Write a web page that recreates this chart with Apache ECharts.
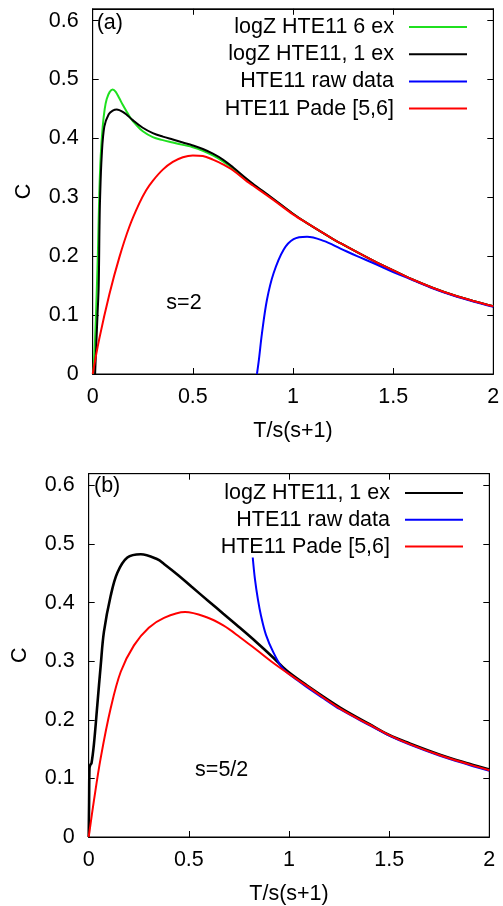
<!DOCTYPE html>
<html><head><meta charset="utf-8">
<script src="https://cdn.jsdelivr.net/npm/echarts@6/dist/echarts.min.js"></script>
<style>html,body{margin:0;padding:0;background:#fff}#c{width:503px;height:906px}</style>
</head><body><div id="c"></div>
<script>
// ---- tick labels ----
const xTickLabels = ['0', '0.5', '1', '1.5', '2'];
const yTickLabels = ['0', '0.1', '0.2', '0.3', '0.4', '0.5', '0.6'];

// ---- series names ----
const namesA = ['logZ HTE11 6 ex', 'logZ HTE11, 1 ex', 'HTE11 raw data', 'HTE11 Pade [5,6]'];
const namesB = ['logZ HTE11, 1 ex', 'HTE11 raw data', 'HTE11 Pade [5,6]'];
const panelTags = ['(a)', '(b)'];
const spinLabels = ['s=2', 's=5/2'];

// ---- panel (a), s=2 : [T/s(s+1), C] ----
const aGreen = [[0.003,0],[0.012,0.06],[0.02,0.137],[0.027,0.22],[0.033,0.307],[0.04,0.37],[0.05,0.42],[0.06,0.45],[0.07,0.467],[0.085,0.479],[0.1,0.483],[0.115,0.479],[0.133,0.468],[0.15,0.457],[0.167,0.447],[0.19,0.434],[0.217,0.423],[0.25,0.412],[0.3,0.402],[0.35,0.397],[0.4,0.393],[0.45,0.389],[0.5,0.385],[0.55,0.379],[0.6,0.371],[0.65,0.361],[0.7,0.349],[0.77,0.330],[0.8,0.322],[0.9,0.297],[1.0,0.272],[1.07,0.256],[1.2,0.229],[1.237,0.222],[1.403,0.192],[1.537,0.170],[1.6,0.160],[1.7,0.146],[1.8,0.134],[1.9,0.124],[2.0,0.115]];
const aBlack = [[0.012,0],[0.018,0.05],[0.024,0.1],[0.03,0.15],[0.034,0.25],[0.037,0.3],[0.045,0.37],[0.058,0.42],[0.08,0.441],[0.1,0.447],[0.12,0.449],[0.133,0.448],[0.15,0.445],[0.167,0.441],[0.2,0.431],[0.25,0.418],[0.3,0.409],[0.35,0.403],[0.4,0.398],[0.45,0.393],[0.5,0.388],[0.55,0.382],[0.6,0.374],[0.65,0.364],[0.7,0.351],[0.77,0.331],[0.8,0.323],[0.9,0.298],[1.0,0.272],[1.07,0.256],[1.2,0.229],[1.237,0.222],[1.403,0.192],[1.537,0.170],[1.6,0.160],[1.7,0.146],[1.8,0.134],[1.9,0.124],[2.0,0.115]];
const aBlue = [[0.82,0],[0.83,0.025],[0.845,0.069],[0.87,0.126],[0.903,0.171],[0.953,0.211],[1.003,0.229],[1.07,0.233],[1.153,0.226],[1.237,0.213],[1.32,0.200],[1.403,0.188],[1.5,0.173],[1.537,0.168],[1.6,0.159],[1.7,0.145],[1.8,0.133],[1.9,0.123],[2.0,0.114]];
const aRed = [[0,0],[0.033,0.06],[0.083,0.135],[0.133,0.198],[0.183,0.25],[0.233,0.29],[0.267,0.312],[0.3,0.328],[0.35,0.347],[0.4,0.360],[0.45,0.368],[0.5,0.371],[0.55,0.370],[0.6,0.364],[0.65,0.356],[0.7,0.346],[0.77,0.327],[0.8,0.320],[0.9,0.296],[1.0,0.271],[1.07,0.256],[1.2,0.229],[1.237,0.222],[1.403,0.192],[1.537,0.170],[1.6,0.160],[1.7,0.146],[1.8,0.134],[1.9,0.124],[2.0,0.115]];

// ---- panel (b), s=5/2 ----
const bBlack = [[0,0],[0.002,0.06],[0.004,0.118],[0.008,0.123],[0.014,0.126],[0.026,0.158],[0.043,0.225],[0.06,0.293],[0.076,0.35],[0.11,0.412],[0.143,0.451],[0.193,0.477],[0.26,0.4825],[0.343,0.474],[0.376,0.466],[0.45,0.446],[0.514,0.427],[0.6,0.402],[0.672,0.381],[0.755,0.357],[0.839,0.332],[0.922,0.306],[0.988,0.284],[1.088,0.259],[1.255,0.221],[1.4,0.193],[1.5,0.174],[1.6,0.160],[1.75,0.141],[1.9,0.125],[2.0,0.115]];
const bBlue = [[0.819,0.477],[0.83,0.44],[0.845,0.405],[0.86,0.378],[0.885,0.345],[0.922,0.315],[0.965,0.289],[1.0,0.278],[1.04,0.268],[1.1,0.253],[1.171,0.237],[1.255,0.218],[1.4,0.191],[1.5,0.173],[1.6,0.158],[1.75,0.139],[1.9,0.123],[2.0,0.113]];
const bRed = [[0,0],[0.026,0.062],[0.06,0.135],[0.11,0.22],[0.16,0.282],[0.226,0.327],[0.3,0.357],[0.376,0.374],[0.481,0.384],[0.589,0.375],[0.672,0.361],[0.755,0.341],[0.839,0.319],[0.922,0.297],[1.005,0.277],[1.088,0.258],[1.255,0.219],[1.4,0.192],[1.5,0.174],[1.6,0.159],[1.75,0.140],[1.9,0.124],[2.0,0.114]];

const FONT = '"Liberation Sans", Arial, sans-serif';
const FS = 21.5;
const colors = { green: '#1fe01f', black: '#000000', blue: '#0000ff', red: '#ff0000' };

function labelFrom(list, step) {
  return function (v) {
    const i = Math.round(v / step);
    if (Math.abs(v - i * step) > 1e-6) return '';
    return list[i] !== undefined ? list[i] : '';
  };
}

function xAxes(gi) {
  const common = {
    gridIndex: gi, type: 'value', min: 0, max: 2, interval: 0.5,
    axisLine: { show: true, onZero: false, lineStyle: { color: '#000', width: 1 } },
    axisTick: { show: true, inside: true, length: 6, lineStyle: { color: '#000', width: 1 } },
    splitLine: { show: false }
  };
  return [
    Object.assign({}, common, {
      position: 'bottom',
      axisLabel: { show: true, margin: 12, fontSize: FS, fontFamily: FONT, color: '#000', formatter: labelFrom(xTickLabels, 0.5) },
      name: 'T/s(s+1)', nameLocation: 'middle', nameGap: 46,
      nameTextStyle: { fontSize: FS, fontFamily: FONT, color: '#000' }
    }),
    Object.assign({}, common, { position: 'top', axisLabel: { show: false } })
  ];
}
function yAxes(gi) {
  const common = {
    gridIndex: gi, type: 'value', min: 0, max: 0.62, interval: 0.1,
    axisLine: { show: true, onZero: false, lineStyle: { color: '#000', width: 1 } },
    axisTick: { show: true, inside: true, length: 6, lineStyle: { color: '#000', width: 1 } },
    splitLine: { show: false }
  };
  return [
    Object.assign({}, common, {
      position: 'left',
      axisLabel: { show: true, margin: 14, fontSize: FS, fontFamily: FONT, color: '#000', formatter: labelFrom(yTickLabels, 0.1) },
      name: 'C', nameLocation: 'middle', nameGap: 58, nameRotate: 90,
      nameTextStyle: { fontSize: FS, fontFamily: FONT, color: '#000' }
    }),
    Object.assign({}, common, { position: 'right', axisLabel: { show: false } })
  ];
}

function line(name, data, color, xi, yi, w) {
  return {
    name: name, type: 'line', data: data, xAxisIndex: xi, yAxisIndex: yi,
    symbol: 'none', showSymbol: false, smooth: 0.35,
    lineStyle: { color: color, width: w || 2 }, itemStyle: { color: color },
    clip: true, animation: false, silent: true
  };
}

const legendCommon = {
  orient: 'vertical', align: 'right', icon: 'rect', itemWidth: 58, itemHeight: 2,
  selectedMode: false, padding: 0,
  textStyle: { fontSize: FS, fontFamily: FONT, color: '#000', padding: [0, 10, 0, 0] }
};

const option = {
  backgroundColor: '#fff',
  animation: false,
  grid: [
    { left: 92.7, top: 8.8, width: 400.6, height: 365.2, show: true, borderColor: '#000', borderWidth: 1, backgroundColor: 'transparent' },
    { left: 88.7, top: 473.7, width: 400.6, height: 366, show: true, borderColor: '#000', borderWidth: 1, backgroundColor: 'transparent' }
  ],
  xAxis: xAxes(0).concat(xAxes(1)),
  yAxis: yAxes(0).concat(yAxes(1)),
  legend: [
    Object.assign({}, legendCommon, { data: namesA, right: 36, top: 16, itemGap: 5.2 }),
    Object.assign({}, legendCommon, { data: namesB, right: 40, top: 482, itemGap: 4.8 })
  ],
  graphic: [
    { type: 'text', x: 96.7, y: 23, style: { text: panelTags[0], font: FS + 'px ' + FONT, fill: '#000', align: 'left', verticalAlign: 'middle' } },
    { type: 'text', x: 94, y: 486.3, style: { text: panelTags[1], font: FS + 'px ' + FONT, fill: '#000', align: 'left', verticalAlign: 'middle' } },
    { type: 'text', x: 184, y: 303.3, style: { text: spinLabels[0], font: FS + 'px ' + FONT, fill: '#000', align: 'center', verticalAlign: 'middle' } },
    { type: 'text', x: 221.7, y: 769.7, style: { text: spinLabels[1], font: FS + 'px ' + FONT, fill: '#000', align: 'center', verticalAlign: 'middle' } }
  ],
  series: [
    line(namesA[0], aGreen, colors.green, 0, 0, 2),
    line(namesA[1], aBlack, colors.black, 0, 0, 2),
    line(namesA[2], aBlue, colors.blue, 0, 0, 2),
    line(namesA[3], aRed, colors.red, 0, 0, 2),
    line(namesB[0], bBlack, colors.black, 2, 2, 2.6),
    line(namesB[1], bBlue, colors.blue, 2, 2, 2),
    line(namesB[2], bRed, colors.red, 2, 2, 2)
  ]
};

const chart = echarts.init(document.getElementById('c'), null, { renderer: 'canvas' });
chart.setOption(option);
</script>
</body></html>
